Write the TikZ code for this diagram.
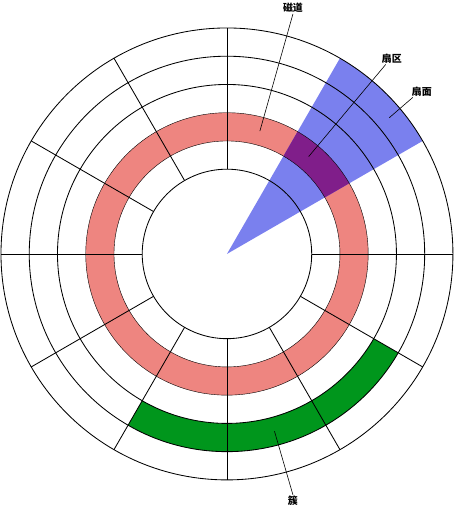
\documentclass[tikz,border=0pt]{standalone}
\usepackage{fontspec}
\newfontfamily\cjk{Noto Sans CJK SC}
\definecolor{ringred}{RGB}{238,133,128}
\definecolor{cblue}{RGB}{122,128,238}
\definecolor{cpurple}{RGB}{128,30,138}
\definecolor{cgreen}{RGB}{0,150,28}
\begin{document}
\begin{tikzpicture}[x=1cm,y=1cm,
  ring/.style={line width=0.85pt},
  edgeline/.style={line width=0.4pt},
  lbl/.style={font=\cjk\bfseries\fontsize{10}{12}\selectfont, inner sep=0pt},
  ptr/.style={line width=0.6pt}]
\useasboundingbox (-8.035,-9.03) rectangle (8.035,8.99);
% fills
\fill[ringred, even odd rule] (0,0) circle (5) (0,0) circle (4);
\fill[cgreen] (240:6) arc (240:330:6) -- (330:7) arc (330:240:7) -- cycle;
\fill[cblue] (0,0) -- (30:8) arc (30:60:8) -- cycle;
\fill[cpurple] (30:4) arc (30:60:4) -- (60:5) arc (60:30:5) -- cycle;
% circles
\foreach \r in {3,6,7,8} \draw[ring] (0,0) circle (\r);
\foreach \r in {4,5} \draw[edgeline] (0,0) circle (\r);
% radial lines
\foreach \a in {0,90,120,150,180,210,240,270,300,330} \draw[ring] (\a:3) -- (\a:8);
% pointer targets
\coordinate (ptrack) at (75:4.5);
\coordinate (psector) at (50:4.5);
\coordinate (pface) at (40:7.5);
\coordinate (pcluster) at (285:6.5);
% labels
\node[lbl] (track) at (2.336,8.708) {磁道};
\node[lbl] (sector) at (5.84,6.92) {扇区};
\node[lbl] (face) at (6.90,5.75) {扇面};
\node[lbl] (cluster) at (2.336,-8.74) {簇};
% pointers
\draw[ptr] ([yshift=-1pt]track.south) -- (ptrack);
\draw[ptr] ([xshift=4pt,yshift=-1pt]sector.south west) -- (psector);
\draw[ptr] ([xshift=1pt,yshift=-1pt]face.south west) -- (pface);
\draw[ptr] ([yshift=1pt]cluster.north) -- (pcluster);
\end{tikzpicture}
\end{document}
